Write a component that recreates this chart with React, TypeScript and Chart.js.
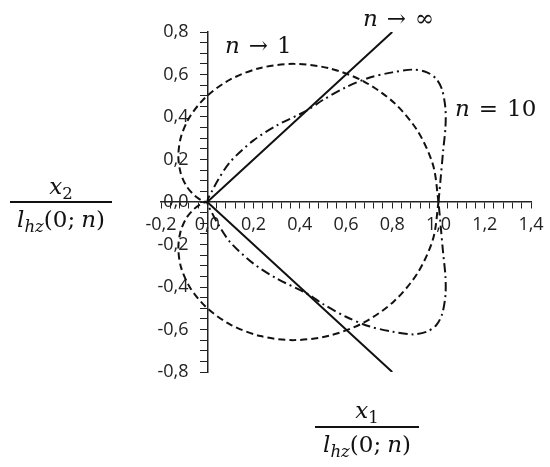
import React, { useEffect, useRef } from 'react';
import { Chart, registerables } from 'chart.js';

Chart.register(...registerables);

// n -> 1 curve (dashed)
const n1X = [1.000, 0.977, 0.911, 0.808, 0.676, 0.528, 0.375, 0.230, 0.102, 0.000, -0.072, -0.113, -0.125, -0.115, -0.090, -0.058, -0.028, -0.008, 0.000,
  -0.008, -0.028, -0.058, -0.090, -0.115, -0.125, -0.113, -0.072, 0.000, 0.102, 0.230, 0.375, 0.528, 0.676, 0.808, 0.911, 0.977, 1.000];
const n1Y = [0.000, 0.172, 0.332, 0.467, 0.568, 0.629, 0.650, 0.631, 0.578, 0.500, 0.407, 0.309, 0.217, 0.137, 0.075, 0.034, 0.010, 0.001, 0.000,
  -0.001, -0.010, -0.034, -0.075, -0.137, -0.217, -0.309, -0.407, -0.500, -0.578, -0.631, -0.650, -0.629, -0.568, -0.467, -0.332, -0.172, 0.000];

// n = 10 curve (dash-dot)
const n10X = [1.000, 1.010, 1.020, 1.030, 1.030, 1.015, 0.990, 0.950, 0.890, 0.800, 0.700, 0.600, 0.500, 0.430, 0.300, 0.200, 0.100, 0.050, 0.020, 0.000,
  0.020, 0.050, 0.100, 0.200, 0.300, 0.430, 0.500, 0.600, 0.700, 0.800, 0.890, 0.950, 0.990, 1.015, 1.030, 1.030, 1.020, 1.010, 1.000];
const n10Y = [0.000, 0.120, 0.240, 0.350, 0.440, 0.530, 0.580, 0.610, 0.623, 0.610, 0.585, 0.540, 0.480, 0.430, 0.360, 0.290, 0.190, 0.110, 0.050, 0.000,
  -0.050, -0.110, -0.190, -0.290, -0.360, -0.430, -0.480, -0.540, -0.585, -0.610, -0.623, -0.610, -0.580, -0.530, -0.440, -0.350, -0.240, -0.120, 0.000];

// n -> infinity (solid)
const infX = [0.8, 0.0, 0.8];
const infY = [0.8, 0.0, -0.8];

const xRange = [-0.2, 1.4];
const yRange = [-0.8, 0.8];
const xMinorStep = 0.04;
const yMinorStep = 0.05;
const labelStep = 0.2;

const zip = (xs: number[], ys: number[]) => xs.map((x, i) => ({ x, y: ys[i] }));

const fmt = (value: number | string) => {
  const v = Number(value);
  const k = Math.round(v / labelStep);
  if (Math.abs(v - k * labelStep) > 1e-6) return '';
  return (k * labelStep).toFixed(1).replace('.', ',');
};
// a centred y axis ignores ticks.padding, so trailing spaces keep the labels off the ticks
const fmtY = (value: number | string) => {
  const s = fmt(value);
  return s ? s + '    ' : '';
};

type Run = { t: string; it?: boolean; s?: number; dy?: number; gap?: number };
const MATH = '"DejaVu Serif", serif';

function setFont(ctx: CanvasRenderingContext2D, r: Run, size: number) {
  const fs = size * (r.s ?? 1);
  ctx.font = `${r.it ? 'italic ' : ''}${fs}px ${MATH}`;
}
function runW(ctx: CanvasRenderingContext2D, r: Run, size: number) {
  if (r.gap !== undefined) return r.gap;
  setFont(ctx, r, size);
  return ctx.measureText(r.t).width;
}
function runsWidth(ctx: CanvasRenderingContext2D, runs: Run[], size: number) {
  return runs.reduce((w, r) => w + runW(ctx, r, size), 0);
}
function drawRuns(ctx: CanvasRenderingContext2D, runs: Run[], x: number, y: number, size: number, align: 'left' | 'center') {
  let cx = align === 'center' ? x - runsWidth(ctx, runs, size) / 2 : x;
  ctx.textAlign = 'left';
  ctx.textBaseline = 'alphabetic';
  for (const r of runs) {
    const w = runW(ctx, r, size);
    if (r.gap === undefined) {
      setFont(ctx, r, size);
      ctx.fillText(r.t, cx, y + (r.dy ?? 0));
    }
    cx += w;
  }
}

const textPlugin = {
  id: 'mathText',
  afterDraw(chart: any) {
    const ctx: CanvasRenderingContext2D = chart.ctx;
    ctx.save();
    ctx.fillStyle = '#111';
    const S = 23;
    const G = 9;
    drawRuns(ctx, [{ t: 'n', it: true }, { t: '', gap: G }, { t: '→' }, { t: '', gap: G }, { t: '1' }], 225, 53, S, 'left');
    drawRuns(ctx, [{ t: 'n', it: true }, { t: '', gap: G }, { t: '→' }, { t: '', gap: G }, { t: '∞' }], 363, 26, S, 'left');
    drawRuns(ctx, [{ t: 'n', it: true }, { t: '', gap: G }, { t: '=' }, { t: '', gap: G }, { t: '10' }], 455, 116, S, 'left');

    const num2: Run[] = [{ t: 'x', it: true }, { t: '2', s: 0.72, dy: 5 }];
    const den: Run[] = [{ t: 'l', it: true }, { t: 'hz', it: true, s: 0.72, dy: 5 }, { t: '(0;' }, { t: '', gap: 6 }, { t: 'n', it: true }, { t: ')' }];
    // y title
    drawRuns(ctx, num2, 61, 194, S, 'center');
    ctx.fillRect(10, 201, 102, 2);
    drawRuns(ctx, den, 61, 227, S, 'center');
    // x title
    const num1: Run[] = [{ t: 'x', it: true }, { t: '1', s: 0.72, dy: 5 }];
    drawRuns(ctx, num1, 367, 418, S, 'center');
    ctx.fillRect(315, 426, 104, 2);
    drawRuns(ctx, den, 367, 452, S, 'center');
    ctx.restore();
  },
};

export default function App() {
  const ref = useRef<HTMLCanvasElement>(null);
  useEffect(() => {
    if (!ref.current) return;
    const tickFont = { family: '"Open Sans", sans-serif', size: 18 };
    const chart = new Chart(ref.current, {
      type: 'scatter',
      data: {
        datasets: [
          { label: 'n→1', data: zip(n1X, n1Y), showLine: true, borderColor: '#111', borderWidth: 2, borderDash: [7, 4], pointRadius: 0, tension: 0.3 },
          { label: 'n=10', data: zip(n10X, n10Y), showLine: true, borderColor: '#111', borderWidth: 2, borderDash: [9, 4, 2, 4], pointRadius: 0, tension: 0.3 },
          { label: 'n→∞', data: zip(infX, infY), showLine: true, borderColor: '#111', borderWidth: 2, pointRadius: 0, tension: 0 },
        ],
      },
      options: {
        animation: false,
        responsive: true,
        maintainAspectRatio: false,
        layout: { padding: { left: 161, right: 19, top: 32, bottom: 95 } },
        plugins: { legend: { display: false }, tooltip: { enabled: false } },
        scales: {
          x: {
            type: 'linear',
            position: { y: 0 } as any,
            min: xRange[0], max: xRange[1],
            ticks: { stepSize: xMinorStep, autoSkip: false, maxRotation: 0, callback: fmt, font: tickFont, color: '#222', padding: 6 },
            grid: { drawOnChartArea: false, drawTicks: true, tickLength: 6, color: '#222', lineWidth: 1 },
            border: { display: true, color: '#222', width: 1.5 },
          },
          y: {
            type: 'linear',
            position: { x: 0 } as any,
            min: yRange[0], max: yRange[1],
            ticks: { stepSize: yMinorStep, autoSkip: false, callback: fmtY, font: tickFont, color: '#222', padding: 12 },
            grid: { drawOnChartArea: false, drawTicks: true, tickLength: 7, color: '#222', lineWidth: 1 },
            border: { display: true, color: '#222', width: 1.5 },
          },
        },
      },
      plugins: [textPlugin],
    });
    return () => chart.destroy();
  }, []);
  return (
    <div style={{ position: 'fixed', left: 0, top: 0, width: 550, height: 467, background: '#fff' }}>
      <canvas ref={ref} />
    </div>
  );
}
